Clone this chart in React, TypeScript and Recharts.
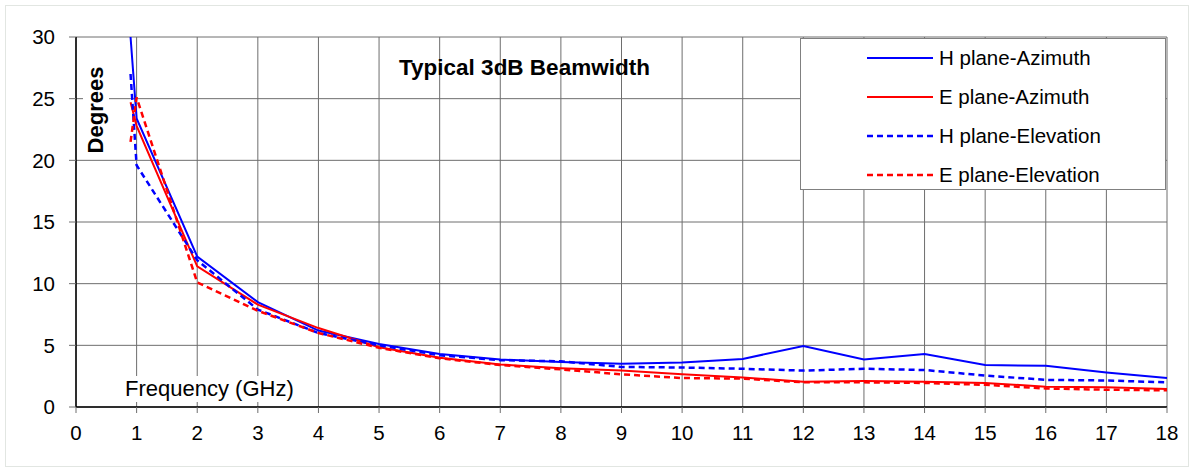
import { LineChart, Line, XAxis, YAxis, CartesianGrid, Legend } from 'recharts'

const freq = [0.9, 1, 2, 3, 4, 5, 6, 7, 8, 9, 10, 11, 12, 13, 14, 15, 16, 17, 18]
const hAzimuth = [30, 23.4, 12.2, 8.5, 6.2, 5.1, 4.3, 3.85, 3.65, 3.5, 3.6, 3.9, 4.95, 3.85, 4.3, 3.4, 3.35, 2.8, 2.35]
const eAzimuth = [24.7, 22.8, 11.4, 8.3, 6.4, 4.85, 4.0, 3.45, 3.15, 2.95, 2.65, 2.4, 2.05, 2.1, 2.05, 1.95, 1.65, 1.6, 1.45]
const hElevation = [27.0, 19.6, 11.9, 7.9, 6.0, 5.0, 4.2, 3.8, 3.7, 3.25, 3.2, 3.1, 2.95, 3.1, 3.0, 2.55, 2.2, 2.15, 2.0]
const eElevation = [21.5, 25.1, 10.1, 7.8, 6.0, 4.8, 3.95, 3.4, 3.05, 2.65, 2.35, 2.3, 2.0, 2.0, 1.95, 1.8, 1.5, 1.4, 1.35]

const xTicks = [0, 1, 2, 3, 4, 5, 6, 7, 8, 9, 10, 11, 12, 13, 14, 15, 16, 17, 18]
const yTicks = [0, 5, 10, 15, 20, 25, 30]

const series = [
  { key: 'hAz', name: 'H plane-Azimuth', color: '#0000ff', dash: undefined, width: 2 },
  { key: 'eAz', name: 'E plane-Azimuth', color: '#ff0000', dash: undefined, width: 2 },
  { key: 'hEl', name: 'H plane-Elevation', color: '#0000ff', dash: '6 4', width: 2.5 },
  { key: 'eEl', name: 'E plane-Elevation', color: '#ff0000', dash: '6 4', width: 2.5 },
]

const data = freq.map((f, i) => ({
  f,
  hAz: hAzimuth[i],
  eAz: eAzimuth[i],
  hEl: hElevation[i],
  eEl: eElevation[i],
}))

const FONT = '"Liberation Sans", Arial, sans-serif'

function LegendBox() {
  return (
    <div
      style={{
        width: 366,
        height: 152,
        background: '#fff',
        border: '1px solid #808080',
        boxSizing: 'border-box',
        fontFamily: FONT,
        fontSize: 20.5,
        color: '#000',
      }}
    >
      {series.map((s, i) => (
        <div key={s.key} style={{ position: 'absolute', left: 67, top: 8 + i * 39, height: 24, display: 'flex', alignItems: 'center' }}>
          <svg width={66} height={6} style={{ marginRight: 6 }}>
            <line x1={0} y1={3} x2={66} y2={3} stroke={s.color} strokeWidth={s.width} strokeDasharray={s.dash} />
          </svg>
          <span>{s.name}</span>
        </div>
      ))}
    </div>
  )
}

export default function App() {
  return (
    <div style={{ position: 'absolute', left: 0, top: 0, width: 1194, height: 470, background: '#fff', fontFamily: FONT }}>
      <div style={{ position: 'absolute', left: 5, top: 5, width: 1184, height: 462, border: '1px solid #e2e6e2', boxSizing: 'border-box' }} />
      <LineChart width={1194} height={470} data={data} margin={{ top: 37, right: 27, left: 16, bottom: 33 }}>
        <CartesianGrid stroke="#6e6e6e" strokeWidth={1} verticalValues={xTicks} horizontalValues={yTicks} />
        <XAxis
          type="number"
          dataKey="f"
          domain={[0, 18]}
          ticks={xTicks}
          interval={0}
          height={30}
          tickSize={6}
          tickMargin={12}
          axisLine={{ stroke: '#000', strokeWidth: 1.5 }}
          tickLine={{ stroke: '#6e6e6e' }}
          tick={{ fill: '#000', fontSize: 20.5, fontFamily: FONT }}
        />
        <YAxis
          type="number"
          domain={[0, 30]}
          ticks={yTicks}
          interval={0}
          width={60}
          tickSize={7}
          tickMargin={14}
          allowDataOverflow
          axisLine={{ stroke: '#000', strokeWidth: 1.5 }}
          tickLine={{ stroke: '#6e6e6e' }}
          tick={{ fill: '#000', fontSize: 20.5, fontFamily: FONT }}
        />
        <Legend
          layout="vertical"
          align="center"
          verticalAlign="middle"
          wrapperStyle={{ left: 800, top: 38, width: 366, height: 152 }}
          content={() => <LegendBox />}
        />
        {series.map((s) => (
          <Line
            key={s.key}
            type="linear"
            dataKey={s.key}
            name={s.name}
            stroke={s.color}
            strokeWidth={s.width}
            strokeDasharray={s.dash}
            dot={false}
            activeDot={false}
            isAnimationActive={false}
          />
        ))}
      </LineChart>
      <div style={{ position: 'absolute', left: 399, top: 55, fontSize: 22.5, fontWeight: 'bold', color: '#000', whiteSpace: 'nowrap' }}>
        Typical 3dB Beamwidth
      </div>
      <div
        style={{
          position: 'absolute',
          left: 96,
          top: 110,
          transform: 'translate(-50%, -50%) rotate(-90deg)',
          fontSize: 22,
          fontWeight: 'bold',
          color: '#000',
          whiteSpace: 'nowrap',
          background: '#fff',
          padding: '0 4px',
        }}
      >
        Degrees
      </div>
      <div style={{ position: 'absolute', left: 124, top: 376, fontSize: 22, color: '#000', whiteSpace: 'nowrap', background: '#fff', padding: '0 1px' }}>
        Frequency (GHz)
      </div>
    </div>
  )
}
